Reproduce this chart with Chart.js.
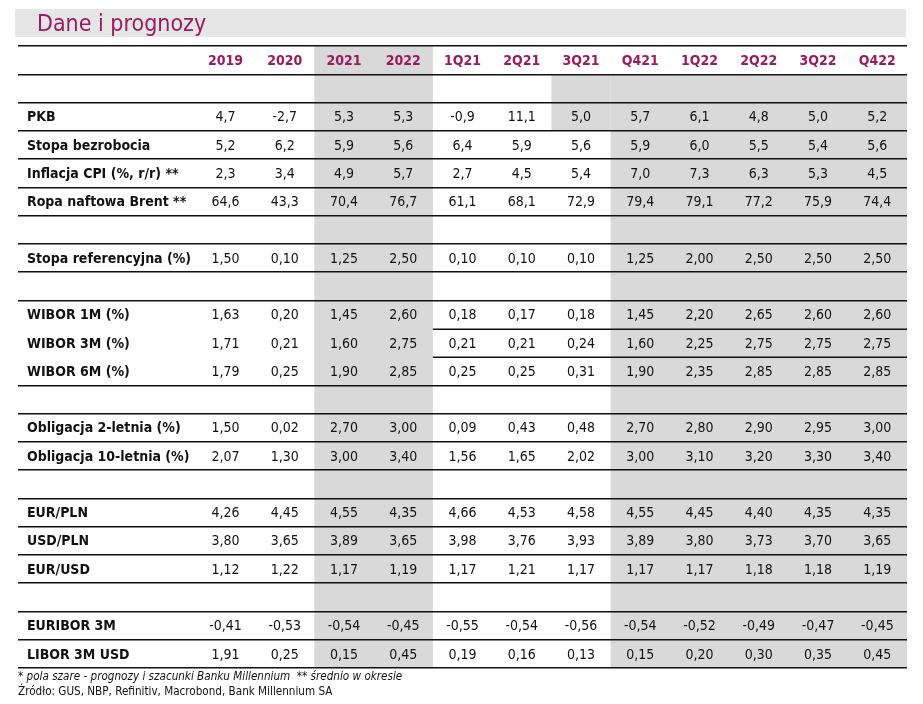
<!DOCTYPE html>
<html lang="pl">
<head>
<meta charset="utf-8">
<title>Dane i prognozy</title>
<script src="https://cdn.jsdelivr.net/npm/chart.js@4.4.1/dist/chart.umd.min.js"></script>
<style>
    body { margin: 0; background: #fff; }
    #wrap { position: relative; width: 923px; height: 704px; }
    #tabela { position: absolute; left: 0; top: 0; }
    #tytulPasek { position: absolute; left: 15px; top: 9px; width: 891px; height: 28px; background: #e6e6e6; }
    #tytul { position: absolute; left: 37px; top: 12px; font: 23px "DejaVu Sans Condensed", "DejaVu Sans", sans-serif; line-height: 1; color: #9e1a5e; white-space: nowrap; }
    .stopka { position: absolute; left: 18px; font: 11.6px "DejaVu Sans Condensed", "DejaVu Sans", sans-serif; line-height: 1; color: #111; white-space: nowrap; }
</style>
</head>
<body>
<div id="wrap">
    <div id="tytulPasek"></div>
    <canvas id="tabela" width="923" height="704"></canvas>
    <div id="tytul">Dane i prognozy</div>
    <div class="stopka" style="top:671px; font-style:italic">* pola szare - prognozy i szacunki Banku Millennium&nbsp;&nbsp;** średnio w okresie</div>
    <div class="stopka" style="top:686px">Źródło: GUS, NBP, Refinitiv, Macrobond, Bank Millennium SA</div>
</div>
<script>
// Kolumny tabeli (lata i kwartały)
const kolumny = ['2019', '2020', '2021', '2022', '1Q21', '2Q21', '3Q21', 'Q421', '1Q22', '2Q22', '3Q22', 'Q422'];

// Wartości w poszczególnych wierszach
const pkb = [4.7, -2.7, 5.3, 5.3, -0.9, 11.1, 5.0, 5.7, 6.1, 4.8, 5.0, 5.2];
const bezrobocie = [5.2, 6.2, 5.9, 5.6, 6.4, 5.9, 5.6, 5.9, 6.0, 5.5, 5.4, 5.6];
const inflacja = [2.3, 3.4, 4.9, 5.7, 2.7, 4.5, 5.4, 7.0, 7.3, 6.3, 5.3, 4.5];
const ropa = [64.6, 43.3, 70.4, 76.7, 61.1, 68.1, 72.9, 79.4, 79.1, 77.2, 75.9, 74.4];
const stopaRef = [1.50, 0.10, 1.25, 2.50, 0.10, 0.10, 0.10, 1.25, 2.00, 2.50, 2.50, 2.50];
const wibor1m = [1.63, 0.20, 1.45, 2.60, 0.18, 0.17, 0.18, 1.45, 2.20, 2.65, 2.60, 2.60];
const wibor3m = [1.71, 0.21, 1.60, 2.75, 0.21, 0.21, 0.24, 1.60, 2.25, 2.75, 2.75, 2.75];
const wibor6m = [1.79, 0.25, 1.90, 2.85, 0.25, 0.25, 0.31, 1.90, 2.35, 2.85, 2.85, 2.85];
const obligacja2 = [1.50, 0.02, 2.70, 3.00, 0.09, 0.43, 0.48, 2.70, 2.80, 2.90, 2.95, 3.00];
const obligacja10 = [2.07, 1.30, 3.00, 3.40, 1.56, 1.65, 2.02, 3.00, 3.10, 3.20, 3.30, 3.40];
const eurPln = [4.26, 4.45, 4.55, 4.35, 4.66, 4.53, 4.58, 4.55, 4.45, 4.40, 4.35, 4.35];
const usdPln = [3.80, 3.65, 3.89, 3.65, 3.98, 3.76, 3.93, 3.89, 3.80, 3.73, 3.70, 3.65];
const eurUsd = [1.12, 1.22, 1.17, 1.19, 1.17, 1.21, 1.17, 1.17, 1.17, 1.18, 1.18, 1.19];
const euribor = [-0.41, -0.53, -0.54, -0.45, -0.55, -0.54, -0.56, -0.54, -0.52, -0.49, -0.47, -0.45];
const libor = [1.91, 0.25, 0.15, 0.45, 0.19, 0.16, 0.13, 0.15, 0.20, 0.30, 0.35, 0.45];

// Układ wierszy: null = pusty wiersz odstępu (wiersz 0 to nagłówek)
const wiersze = [
    null,
    ['PKB', pkb, 1],
    ['Stopa bezrobocia', bezrobocie, 1],
    ['Inflacja CPI (%, r/r) **', inflacja, 1],
    ['Ropa naftowa Brent **', ropa, 1],
    null,
    ['Stopa referencyjna (%)', stopaRef, 2],
    null,
    ['WIBOR 1M (%)', wibor1m, 2],
    ['WIBOR 3M (%)', wibor3m, 2],
    ['WIBOR 6M (%)', wibor6m, 2],
    null,
    ['Obligacja 2-letnia (%)', obligacja2, 2],
    ['Obligacja 10-letnia (%)', obligacja10, 2],
    null,
    ['EUR/PLN', eurPln, 2],
    ['USD/PLN', usdPln, 2],
    ['EUR/USD', eurUsd, 2],
    null,
    ['EURIBOR 3M', euribor, 2],
    ['LIBOR 3M USD', libor, 2]
];

// Pola szare (prognozy): [pierwsza kolumna, ostatnia kolumna, pierwszy wiersz, ostatni wiersz]
const polaSzare = [
    [2, 3, 0, 21],
    [6, 6, 1, 2],
    [7, 11, 1, 21]
];

// Linie między wierszami w grupie WIBOR rysowane tylko od kolumn kwartalnych
const liniePrzerwane = [10, 11];
const pierwszaKolumnaKw = 4;

const FONT = '"DejaVu Sans Condensed", "DejaVu Sans", sans-serif';
const MAGENTA = '#9e1a5e';
const liczbaWierszy = wiersze.length + 1;
const granice = [];
for (let i = 0; i <= liczbaWierszy; i++) granice.push(i);

function formatuj(v, d) {
    return v.toFixed(d).replace('.', ',');
}

// Tło pól szarych rysowane pod liniami
const tloPlugin = {
    id: 'tlo',
    beforeDraw(chart) {
        const { ctx, scales: { x, y } } = chart;
        ctx.save();
        ctx.fillStyle = '#d9d9d9';
        polaSzare.forEach(([k0, k1, w0, w1]) => {
            const x0 = x.getPixelForValue(k0 - 0.5);
            const x1 = x.getPixelForValue(k1 + 0.5);
            const y0 = y.getPixelForValue(w0);
            const y1 = y.getPixelForValue(w1 + 1);
            ctx.fillRect(x0, y0, x1 - x0, y1 - y0);
        });
        ctx.restore();
    }
};

// Teksty komórek
const tekstPlugin = {
    id: 'tekst',
    afterDraw(chart) {
        const { ctx, scales: { x, y } } = chart;
        ctx.save();

        // krótkie linie w grupie WIBOR
        ctx.strokeStyle = '#111';
        ctx.lineWidth = 1.5;
        liniePrzerwane.forEach((g) => {
            const yy = Math.round(y.getPixelForValue(g)) + 0.25;
            ctx.beginPath();
            ctx.moveTo(x.getPixelForValue(pierwszaKolumnaKw - 0.5), yy);
            ctx.lineTo(x.getPixelForValue(kolumny.length - 0.5), yy);
            ctx.stroke();
        });

        ctx.textBaseline = 'middle';
        ctx.textAlign = 'center';
        ctx.font = 'bold 14px ' + FONT;
        ctx.fillStyle = MAGENTA;
        kolumny.forEach((k, i) => {
            ctx.fillText(k, x.getPixelForValue(i), y.getPixelForValue(0.5) + 1);
        });

        wiersze.forEach((w, idx) => {
            if (!w) return;
            const [etykieta, dane, miejsca] = w;
            const yy = y.getPixelForValue(idx + 1.5) + 1;
            ctx.textAlign = 'left';
            ctx.font = 'bold 14px ' + FONT;
            ctx.fillStyle = '#111';
            ctx.fillText(etykieta, chart.chartArea.left + 9, yy);
            ctx.textAlign = 'center';
            ctx.font = '14px ' + FONT;
            dane.forEach((v, i) => {
                ctx.fillText(formatuj(v, miejsca), x.getPixelForValue(i), yy);
            });
        });
        ctx.restore();
    }
};

const wykres = new Chart(document.getElementById('tabela'), {
    type: 'scatter',
    data: { datasets: [{ data: [] }] },
    options: {
        responsive: false,
        devicePixelRatio: 1,
        animation: false,
        layout: { padding: { left: 18, top: 46, right: 16, bottom: 36 } },
        plugins: { legend: { display: false }, tooltip: { enabled: false } },
        scales: {
            x: {
                type: 'linear',
                min: -3.5,
                max: kolumny.length - 0.5,
                display: false
            },
            y: {
                type: 'linear',
                reverse: true,
                min: 0,
                max: liczbaWierszy,
                afterBuildTicks: (axis) => {
                    axis.ticks = granice.map((v) => ({ value: v }));
                },
                ticks: { display: false },
                border: { display: false },
                grid: {
                    drawTicks: false,
                    lineWidth: 1.5,
                    color: (c) => liniePrzerwane.includes(c.tick.value) ? 'rgba(0,0,0,0)' : '#111'
                }
            }
        }
    },
    plugins: [tloPlugin, tekstPlugin]
});
</script>
</body>
</html>
